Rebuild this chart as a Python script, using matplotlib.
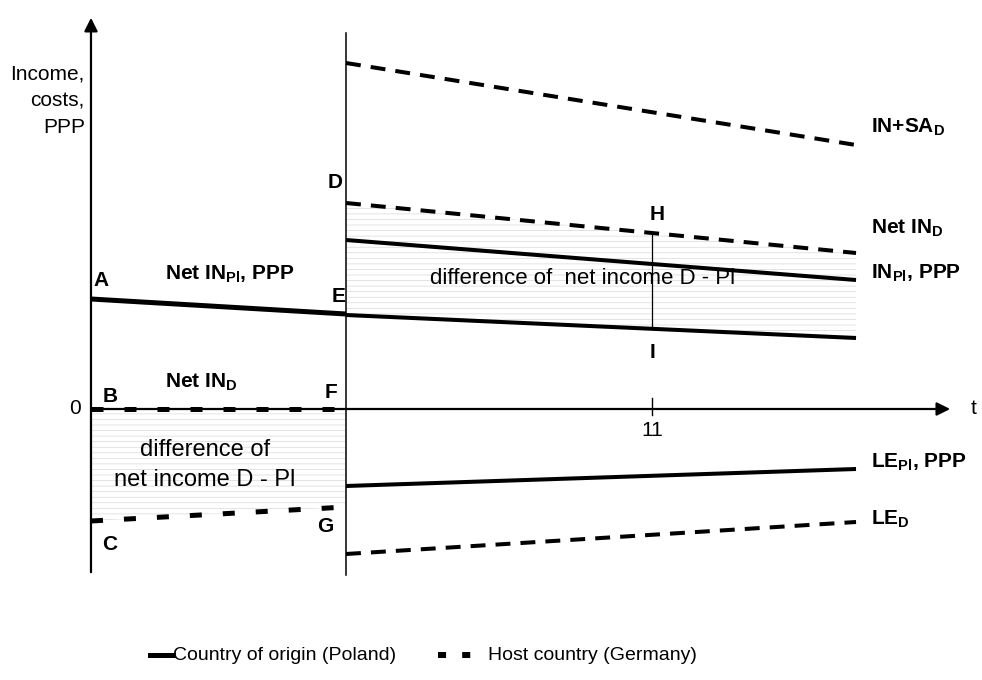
import matplotlib
matplotlib.use("Agg")
import matplotlib.pyplot as plt
import numpy as np

plt.rcParams['font.family'] = ['Liberation Sans', 'DejaVu Sans']
plt.rcParams['mathtext.fontset'] = 'custom'
plt.rcParams['mathtext.rm'] = 'Liberation Sans'
plt.rcParams['mathtext.bf'] = 'Liberation Sans:bold'
plt.rcParams['hatch.linewidth'] = 0.5

# time points: start, migration, end of horizon, marked year
t_pre = [0, 5]
t_post = [5, 15]
t_mark = 11

# income / cost levels (schematic units)
net_in_pl_pre = [11.0, 9.5]      # A -> E
net_in_d_pre = [0.0, 0.0]        # B -> F
le_d_pre = [-11.2, -9.8]         # C -> G
in_sa_d = [34.6, 26.4]
net_in_d_post = [20.6, 15.6]     # D -> ...
in_pl_post = [16.9, 12.9]
net_in_pl_post = [9.4, 7.1]      # E -> ...
le_pl_post = [-7.7, -6.0]
le_d_post = [-14.5, -11.3]

fig = plt.figure(figsize=(9.82, 6.80), dpi=100)
ax = fig.add_axes([0, 0, 1, 1])
ax.set_xlim(-1.784, 17.47)
ax.set_ylim(-27.1, 40.9)
ax.axis('off')

# shaded differences
ax.fill_between(t_post, net_in_pl_post, net_in_d_post, facecolor='none',
                hatch='---', edgecolor='#d8d8d8', lw=0, zorder=1)
ax.fill_between(t_pre, le_d_pre, net_in_d_pre, facecolor='none',
                hatch='---', edgecolor='#d8d8d8', lw=0, zorder=1)

# axes with arrows
ax.annotate('', xy=(0, 39.4), xytext=(0, -16.6),
            arrowprops=dict(arrowstyle='-|>', lw=1.6, color='k', mutation_scale=20))
ax.annotate('', xy=(16.9, 0), xytext=(-0.05, 0),
            arrowprops=dict(arrowstyle='-|>', lw=1.6, color='k', mutation_scale=20))
# migration moment
ax.plot([5, 5], [37.6, -16.6], color='k', lw=1.1, zorder=2)
# marked year t=11
ax.plot([t_mark, t_mark], [np.interp(t_mark, t_post, net_in_d_post),
                           np.interp(t_mark, t_post, net_in_pl_post)], color='k', lw=0.9)
ax.plot([t_mark, t_mark], [-0.6, 1.1], color='k', lw=1.0)

solid = dict(color='k', lw=2.9, solid_capstyle='butt', zorder=3)
dash_post = dict(color='k', lw=2.9, dashes=(3.7, 2.5), zorder=3)
dash_pre = dict(color='k', lw=3.6, dashes=(2.4, 4.2), zorder=3)

ax.plot(t_pre, net_in_pl_pre, color='k', lw=3.6, solid_capstyle='butt', zorder=3)
ax.plot(t_pre, net_in_d_pre, **dash_pre)
ax.plot(t_pre, le_d_pre, **dash_pre)

ax.plot(t_post, in_sa_d, **dash_post)
ax.plot(t_post, net_in_d_post, **dash_post)
ax.plot(t_post, in_pl_post, **solid)
ax.plot(t_post, net_in_pl_post, **solid)
ax.plot(t_post, le_pl_post, **solid)
ax.plot(t_post, le_d_post, **dash_post)

fs = 15
bold = dict(fontsize=fs, fontweight='bold', va='center')

# point letters
ax.text(0.05, 12.8, 'A', ha='left', **bold)
ax.text(4.85, 11.3, 'E', ha='center', **bold)
ax.text(4.78, 22.6, 'D', ha='center', **bold)
ax.text(11.1, 19.5, 'H', ha='center', **bold)
ax.text(11.0, 5.6, 'I', ha='center', **bold)
ax.text(0.37, 1.2, 'B', ha='center', **bold)
ax.text(4.7, 1.6, 'F', ha='center', **bold)
ax.text(0.37, -13.6, 'C', ha='center', **bold)
ax.text(4.6, -11.7, 'G', ha='center', **bold)

# series labels
ax.text(1.45, 13.5, r'Net IN$_{\mathbf{Pl}}$, PPP', ha='left', **bold)
ax.text(1.45, 2.7, r'Net IN$_{\mathbf{D}}$', ha='left', **bold)
ax.text(15.3, 28.2, r'IN+SA$_{\mathbf{D}}$', ha='left', **bold)
ax.text(15.3, 18.1, r'Net IN$_{\mathbf{D}}$', ha='left', **bold)
ax.text(15.3, 13.6, r'IN$_{\mathbf{Pl}}$, PPP', ha='left', **bold)
ax.text(15.3, -5.3, r'LE$_{\mathbf{Pl}}$, PPP', ha='left', **bold)
ax.text(15.3, -11.0, r'LE$_{\mathbf{D}}$', ha='left', **bold)

reg = dict(fontsize=fs, va='center')
ax.text(-0.12, 30.8, 'Income,\ncosts,\nPPP', ha='right', linespacing=1.5, **reg)
ax.text(-0.32, 0, '0', ha='center', **reg)
ax.text(17.3, 0, 't', ha='center', **reg)
ax.text(t_mark, -2.1, '11', ha='center', **reg)
ax.text(2.23, -5.6, 'difference of\nnet income D - Pl', ha='center', linespacing=1.45,
        fontsize=17, va='center')
ax.text(6.65, 13.0, 'difference of  net income D - Pl', ha='left', fontsize=16, va='center')

# legend drawn in figure coordinates
ly = 1 - 655 / 680
fig.lines.append(plt.Line2D([150 / 982, 173 / 982], [ly, ly], color='k', lw=3.6,
                            transform=fig.transFigure))
fig.lines.append(plt.Line2D([438 / 982, 472 / 982], [ly, ly], color='k', lw=4.3,
                            dashes=(1.35, 2.7), transform=fig.transFigure))
fig.text(173 / 982, ly, 'Country of origin (Poland)', fontsize=14, va='center')
fig.text(488 / 982, ly, 'Host country (Germany)', fontsize=14, va='center')

fig.savefig('out.png', dpi=100)
